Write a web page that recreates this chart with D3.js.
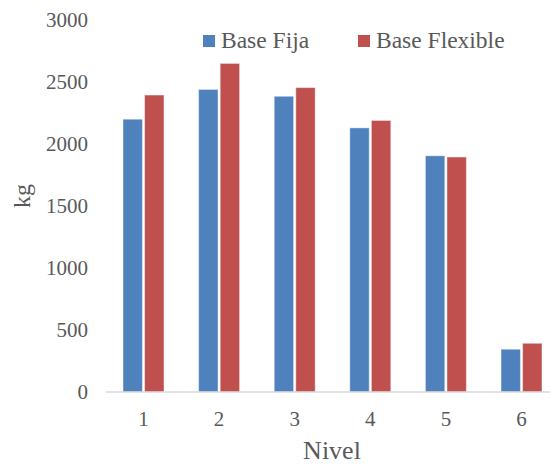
<!DOCTYPE html>
<html><head><meta charset="utf-8">
<script src="https://cdn.jsdelivr.net/npm/d3@7/dist/d3.min.js"></script>
<style>body{margin:0;background:#fff}svg{display:block}</style>
</head><body><svg id="c" width="550" height="465"></svg>
<script>
const categories = ["1","2","3","4","5","6"];
const seriesNames = ["Base Fija","Base Flexible"];
const baseFija = [2200, 2440, 2385, 2130, 1905, 345];
const baseFlexible = [2395, 2650, 2455, 2190, 1895, 393];
const yTicks = [0,500,1000,1500,2000,2500,3000];
const colors = ["#4f81bd","#c0504d"];
const FONT = "'Liberation Serif', 'Times New Roman', serif";
const TXT = "#595959";

const svg = d3.select("#c");
const x = d3.scaleBand().domain(categories).range([105.7, 559.3]);
const y = d3.scaleLinear().domain([0,3000]).range([392, 20]);
const xs = d3.scaleBand().domain(seriesNames).range([-20.5, 20.5]).paddingInner(0.1);

const data = categories.map((c,i)=>({c, vals:[baseFija[i], baseFlexible[i]]}));
const g = svg.append("g");
data.forEach(d=>{
  d.vals.forEach((v,j)=>{
    g.append("rect")
      .attr("x", x(d.c)+x.bandwidth()/2 + xs(seriesNames[j]))
      .attr("width", xs.bandwidth())
      .attr("y", y(v)).attr("height", y(0)-y(v))
      .attr("fill", colors[j])
      .attr("stroke", "rgba(255,255,255,0.45)").attr("stroke-width", 1);
  });
});

// axis line
svg.append("line").attr("x1",x.range()[0]).attr("x2",x.range()[1]).attr("y1",y(0)).attr("y2",y(0))
  .attr("stroke","#d9d9d9").attr("stroke-width",1.5);

// y tick labels
const ya = svg.append("g").attr("transform","translate(88,0)")
  .call(d3.axisLeft(y).tickValues(yTicks).tickSize(0).tickPadding(0).tickFormat(d3.format("d")));
ya.attr("font-family", FONT).attr("font-size", 21);
ya.select(".domain").remove();
ya.selectAll("text").attr("fill",TXT).attr("font-family",FONT).attr("font-size",21);

// x tick labels
const xa = svg.append("g").attr("transform",`translate(0,${y(0)})`)
  .call(d3.axisBottom(x).tickSize(0).tickPadding(19));
xa.attr("font-family", FONT).attr("font-size", 21);
xa.select(".domain").remove();
xa.selectAll("text").attr("fill",TXT).attr("font-family",FONT).attr("font-size",21);

// axis titles
svg.append("text").attr("x",332).attr("y",459).attr("text-anchor","middle")
  .attr("font-family",FONT).attr("font-size",26).attr("fill",TXT).text("Nivel");
svg.append("text").attr("transform","translate(30,196) rotate(-90)").attr("text-anchor","middle")
  .attr("font-family",FONT).attr("font-size",24).attr("fill",TXT).text("kg");

// legend
const lx = [203, 358];
seriesNames.forEach((n,i)=>{
  svg.append("rect").attr("x",lx[i]).attr("y",35).attr("width",12).attr("height",12).attr("fill",colors[i]);
  svg.append("text").attr("x",lx[i]+18).attr("y",48).attr("font-family",FONT).attr("font-size",23.5)
    .attr("fill",TXT).text(n);
});
</script></body></html>
